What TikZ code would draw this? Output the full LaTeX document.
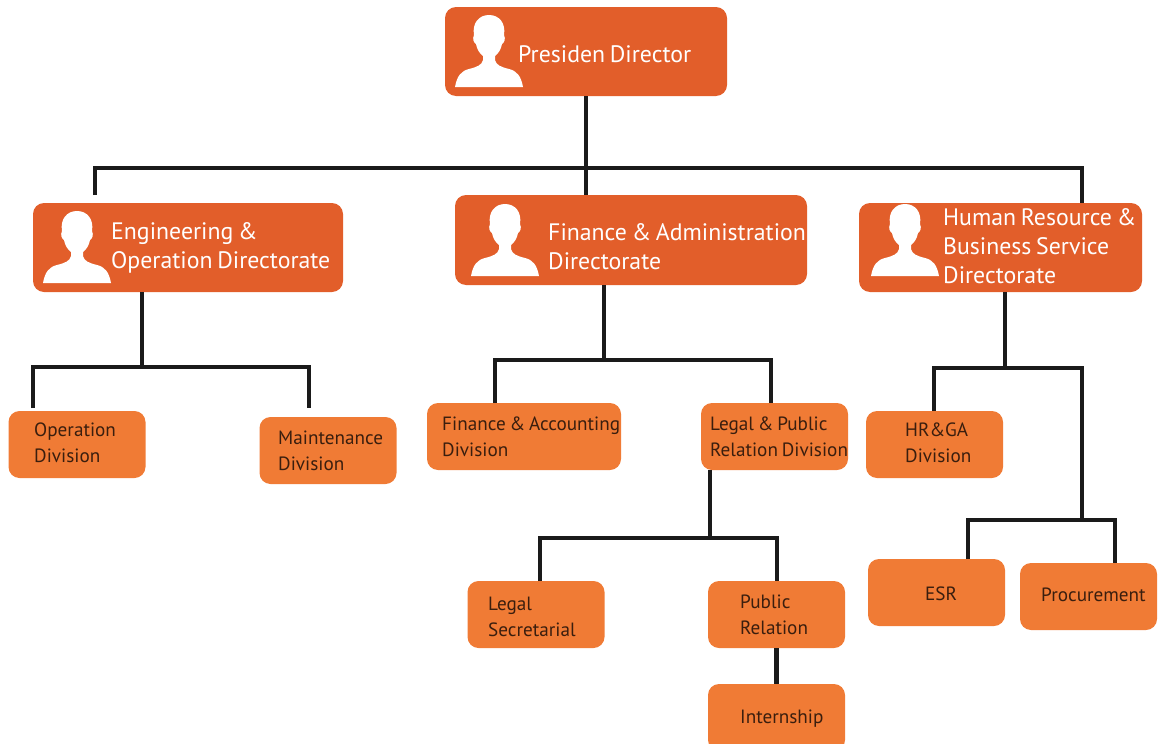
\documentclass[tikz,border=0pt]{standalone}
\usepackage{fontspec}
\setmainfont[WordSpace=0.75]{PT Sans}
\definecolor{deep orange}{HTML}{E25E2A}
\definecolor{soft orange}{HTML}{F07B35}
\definecolor{link black}{HTML}{1A1A1A}
\definecolor{label brown}{HTML}{3A1E0E}
\tikzset{
	link/.style={draw=link black, line width=4.5pt, line join=miter},
	headbox/.style={fill=deep orange, rounded corners=11pt, inner sep=0pt},
	divbox/.style={fill=soft orange, rounded corners=11pt, inner sep=0pt, minimum width=137pt, minimum height=67pt},
	headtext/.style={anchor=west, align=left, inner sep=0pt, text=white, font=\fontsize{23.8}{29}\selectfont},
	divtext/.style={anchor=west, align=left, inner sep=0pt, text=label brown, font=\fontsize{19.2}{26}\selectfont},
	person/.pic={
		\fill[white] (-34,0) .. controls (-32,-11) and (-28,-16) .. (-20,-18)
			.. controls (-12,-20) and (-7,-22) .. (-6,-27) -- (-6,-31)
			.. controls (-10,-34) and (-12,-38) .. (-13,-43)
			.. controls (-15,-44) and (-17,-48) .. (-15,-52)
			.. controls (-17,-64) and (-10,-72) .. (0,-72)
			.. controls (10,-72) and (17,-64) .. (15,-52)
			.. controls (17,-48) and (15,-44) .. (13,-43)
			.. controls (12,-38) and (10,-34) .. (6,-31) -- (6,-27)
			.. controls (7,-22) and (12,-20) .. (20,-18)
			.. controls (28,-16) and (32,-11) .. (34,0) -- cycle;
	}
}
\begin{document}
\begin{tikzpicture}[x=1pt, y=-1pt]
	\useasboundingbox (0,0) rectangle (1168,744);
	% directorate boxes
	\node[headbox, minimum width=282pt, minimum height=89pt] (presiden) at (586,51.5) {};
	\node[headbox, minimum width=310pt, minimum height=89pt] (engineering) at (188,247.5) {};
	\node[headbox, minimum width=352pt, minimum height=90pt] (finance) at (631,240) {};
	\node[headbox, minimum width=283pt, minimum height=89pt] (human) at (1000.5,247.5) {};
	% division boxes
	\node[divbox] (operation) at (77,444.5) {};
	\node[divbox] (maintenance) at (328,450.5) {};
	\node[divbox, minimum width=194pt] (accounting) at (524,436.5) {};
	\node[divbox, minimum width=147pt] (legalpublic) at (774.5,436.5) {};
	\node[divbox] (hrga) at (934.5,444.5) {};
	\node[divbox] (secretarial) at (536,614.5) {};
	\node[divbox] (publicrel) at (776.5,614.5) {};
	\node[divbox] (internship) at (776.5,717.5) {};
	\node[divbox] (esr) at (936.5,592.5) {};
	\node[divbox] (procurement) at (1088.5,596.5) {};
	% portraits
	\pic at (489,87) {person};
	\pic at (77,283) {person};
	\pic at (505,276) {person};
	\pic at (905,276) {person};
	% labels
	\node[headtext] (presidenlabel) at (518,54) {Presiden Director};
	\node[headtext] (engineeringlabel) at (111,248) {Engineering \&\\Operation Directorate};
	\node[headtext] (financelabel) at (548,247) {Finance \& Administration\\Directorate};
	\node[headtext] (humanlabel) at (943,246) {Human Resource \&\\Business Service\\Directorate};
	\node[divtext] (operationlabel) at (34,443) {Operation\\Division};
	\node[divtext] (maintenancelabel) at (278,451) {Maintenance\\Division};
	\node[divtext] (accountinglabel) at (442,437) {Finance \& Accounting\\Division};
	\node[divtext] (legalpubliclabel) at (710,437) {Legal \& Public\\Relation Division};
	\node[divtext] (hrgalabel) at (905,443) {HR\&GA\\Division};
	\node[divtext] (secretariallabel) at (488,617) {Legal\\Secretarial};
	\node[divtext] (publicrellabel) at (740,615) {Public\\Relation};
	\node[divtext] (internshiplabel) at (740,719) {Internship};
	\node[divtext] (esrlabel) at (925,594) {ESR};
	\node[divtext] (procurementlabel) at (1041,595) {Procurement};
	% top level bus
	\coordinate (topbus) at (586,168);
	\coordinate (engdrop) at (95,195);
	\coordinate (hrdrop) at (1082,203);
	\draw[link] (presiden.south) -- (topbus);
	\draw[link] (topbus) -- (topbus |- finance.north);
	\draw[link] (engdrop) |- (topbus) -| (hrdrop);
	% engineering side
	\coordinate (engbus) at (142,367);
	\coordinate (opdrop) at (33,408);
	\coordinate (maintdrop) at (309,408);
	\draw[link] (engineering.south -| engbus) -- (engbus);
	\draw[link] (opdrop) |- (engbus) -| (maintdrop);
	% finance side
	\coordinate (finbus) at (604,360);
	\coordinate (accdrop) at (495,403);
	\coordinate (pubdrop) at (771,403);
	\draw[link] (finance.south -| finbus) -- (finbus);
	\draw[link] (accdrop) |- (finbus) -| (pubdrop);
	% legal side
	\coordinate (legalbus) at (710,538);
	\coordinate (secdrop) at (540,581);
	\coordinate (reldrop) at (777,581);
	\draw[link] (legalpublic.south -| legalbus) -- (legalbus);
	\draw[link] (secdrop) |- (legalbus) -| (reldrop);
	\draw[link] (publicrel.south) -- (internship.north);
	% human resource side
	\coordinate (hrbus) at (1005,368);
	\coordinate (hrgadrop) at (934,411);
	\coordinate (lowbus) at (1082,520);
	\coordinate (esrdrop) at (968,559);
	\coordinate (procdrop) at (1115,563);
	\draw[link] (human.south -| hrbus) -- (hrbus);
	\draw[link] (hrgadrop) |- (hrbus) -| (lowbus);
	\draw[link] (esrdrop) |- (lowbus) -| (procdrop);
\end{tikzpicture}
\end{document}
